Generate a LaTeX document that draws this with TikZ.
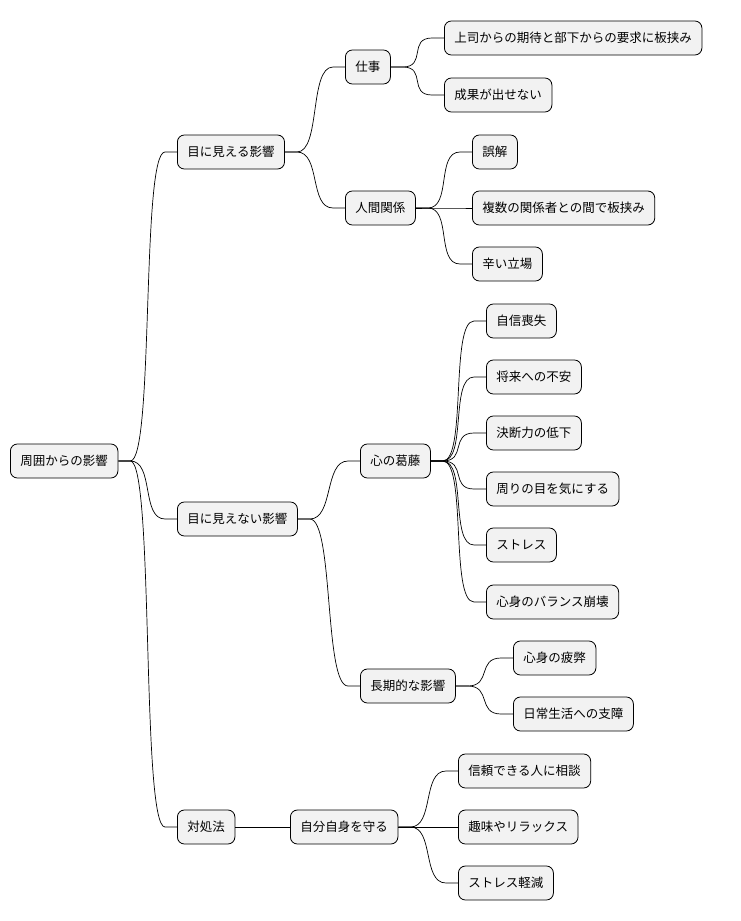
\documentclass[tikz,border=0pt]{standalone}
\usepackage{fontspec}
\setmainfont{Noto Sans CJK JP}
\usetikzlibrary{calc}
\tikzset{
  mm/.style={draw=black, fill=gray!10, rounded corners=7pt, line width=0.8pt, minimum height=34pt, inner xsep=10pt, anchor=west, font=\fontsize{12.5}{14}\selectfont},
  ln/.style={draw=black, line width=0.7pt}
}
\newcommand{\conn}[2]{\draw[ln] (#1.east) -- ++(12,0) .. controls ($(#1.east)+(36,0)$) and ($(#2.west)+(-36,0)$) .. ($(#2.west)+(-12,0)$) -- (#2.west);}
\begin{document}
\begin{tikzpicture}[x=1pt,y=-1pt]
\useasboundingbox (0,0) rectangle (740,921);
\node[mm] (r) at (10,461) {周囲からの影響};
\node[mm] (a) at (177,152) {目に見える影響};
\node[mm] (a1) at (345,67) {仕事};
\node[mm] (a11) at (444,38) {上司からの期待と部下からの要求に板挟み};
\node[mm] (a12) at (444,95) {成果が出せない};
\node[mm] (a2) at (345,208) {人間関係};
\node[mm] (a21) at (472,152) {誤解};
\node[mm] (a22) at (472,208) {複数の関係者との間で板挟み};
\node[mm] (a23) at (472,264) {辛い立場};
\node[mm] (b) at (177,519) {目に見えない影響};
\node[mm] (b1) at (360,461) {心の葛藤};
\node[mm] (b11) at (486,321) {自信喪失};
\node[mm] (b12) at (486,377) {将来への不安};
\node[mm] (b13) at (486,433) {決断力の低下};
\node[mm] (b14) at (486,489) {周りの目を気にする};
\node[mm] (b15) at (486,545) {ストレス};
\node[mm] (b16) at (486,602) {心身のバランス崩壊};
\node[mm] (b2) at (360,686) {長期的な影響};
\node[mm] (b21) at (513,658) {心身の疲弊};
\node[mm] (b22) at (513,714) {日常生活への支障};
\node[mm] (c) at (177,827) {対処法};
\node[mm] (c1) at (290,827) {自分自身を守る};
\node[mm] (c11) at (458,771) {信頼できる人に相談};
\node[mm] (c12) at (458,827) {趣味やリラックス};
\node[mm] (c13) at (458,883) {ストレス軽減};
\conn{r}{a}\conn{r}{b}\conn{r}{c}
\conn{a}{a1}\conn{a}{a2}
\conn{a1}{a11}\conn{a1}{a12}
\conn{a2}{a21}\conn{a2}{a22}\conn{a2}{a23}
\conn{b}{b1}\conn{b}{b2}
\conn{b1}{b11}\conn{b1}{b12}\conn{b1}{b13}\conn{b1}{b14}\conn{b1}{b15}\conn{b1}{b16}
\conn{b2}{b21}\conn{b2}{b22}
\draw[ln] (c) -- (c1);
\conn{c1}{c11}\conn{c1}{c12}\conn{c1}{c13}
\end{tikzpicture}
\end{document}
